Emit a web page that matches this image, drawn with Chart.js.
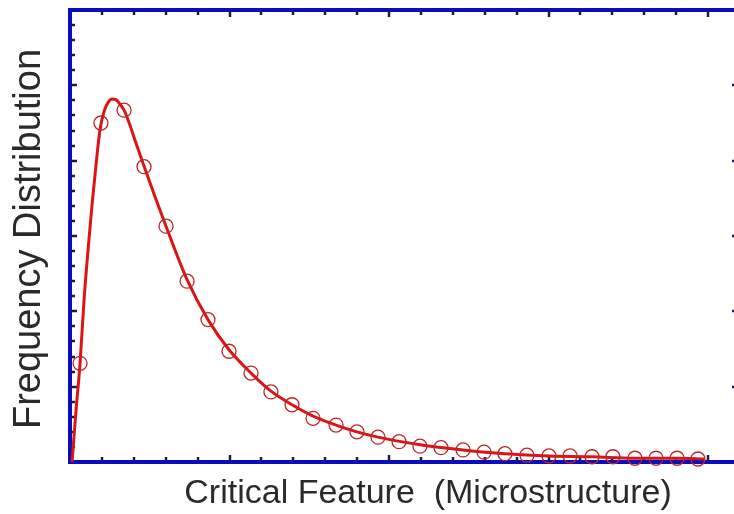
<!DOCTYPE html>
<html><head><meta charset="utf-8">
<script src="https://cdn.jsdelivr.net/npm/chart.js@4/dist/chart.umd.min.js"></script>
<style>html,body{margin:0;padding:0;background:#fff;overflow:hidden;}</style>
</head><body>
<canvas id="c" width="734" height="514"></canvas>
<script>
// Measured sample points (circles)
const sampleX = [0.063,0.194,0.339,0.464,0.602,0.734,0.865,0.997,1.135,1.260,1.392,1.524,1.668,1.799,1.931,2.063,2.194,2.326,2.464,2.596,2.727,2.865,3.003,3.135,3.273,3.404,3.542,3.674,3.806,3.937];
const sampleY = [1.31,4.50,4.67,3.92,3.13,2.40,1.89,1.47,1.18,0.93,0.76,0.58,0.49,0.40,0.33,0.27,0.21,0.19,0.16,0.13,0.11,0.09,0.08,0.08,0.07,0.07,0.05,0.05,0.05,0.04];
// Fitted distribution curve (solid red line)
const fitX = [0.013,0.038,0.063,0.088,0.113,0.138,0.163,0.188,0.213,0.238,0.263,0.288,0.313,0.339,0.376,0.414,0.464,0.533,0.602,0.734,0.865,0.997,1.135,1.260,1.392,1.524,1.668,1.799,1.931,2.194,2.464,2.727,3.003,3.273,3.542,3.806,3.980];
const fitY = [0.00,0.69,1.31,2.15,2.81,3.41,3.94,4.41,4.65,4.77,4.82,4.81,4.75,4.67,4.47,4.23,3.93,3.52,3.13,2.42,1.89,1.49,1.18,0.94,0.76,0.61,0.49,0.40,0.33,0.23,0.16,0.11,0.08,0.07,0.05,0.05,0.04];
const xAxisTitle = 'Critical Feature  (Microstructure)';
const yAxisTitle = 'Frequency Distribution';
const xMin = 0, xMax = 4.163, yMin = 0, yMax = 6;
const xMajorStep = 1, xMinorStep = 0.2, yMajorStep = 1, yMinorStep = 0.2;

const toPts = (xs, ys) => xs.map((x, i) => ({x: x, y: ys[i]}));

const framePlugin = {
  id: 'frame',
  beforeDatasetsDraw(chart) {
    const {ctx, chartArea: a, scales: {x, y}} = chart;
    ctx.save();
    ctx.strokeStyle = '#0b0bbf';
    ctx.lineWidth = 4;
    ctx.strokeRect(a.left, a.top, a.right - a.left + 3, a.bottom - a.top);
    ctx.strokeStyle = '#181860';
    ctx.lineWidth = 2.5;
    ctx.beginPath();
    const nx = Math.round((xMax - xMin) / xMinorStep);
    for (let i = 1; i <= nx; i++) {
      const v = xMin + i * xMinorStep;
      const px = Math.round(x.getPixelForValue(v));
      const major = (i % Math.round(xMajorStep / xMinorStep)) === 0;
      const len = major ? 7 : 5;
      ctx.moveTo(px, a.top); ctx.lineTo(px, a.top + len);
      ctx.moveTo(px, a.bottom); ctx.lineTo(px, a.bottom - len);
    }
    const ny = Math.round((yMax - yMin) / yMinorStep);
    for (let i = 1; i < ny; i++) {
      const v = yMin + i * yMinorStep;
      const py = Math.round(y.getPixelForValue(v));
      const major = (i % Math.round(yMajorStep / yMinorStep)) === 0;
      ctx.moveTo(a.left, py); ctx.lineTo(a.left + (major ? 7 : 5), py);
      if (major) { ctx.moveTo(a.right, py); ctx.lineTo(a.right - 2, py); }
    }
    ctx.stroke();
    ctx.restore();
  },
  afterDraw(chart) {
    const {ctx} = chart;
    ctx.save();
    ctx.fillStyle = '#2a2a2a';
    ctx.textAlign = 'center';
    ctx.textBaseline = 'middle';
    ctx.font = '34px "Liberation Sans", Arial, sans-serif';
    ctx.fillText(xAxisTitle, 428, 494);
    ctx.font = '38px "Liberation Sans", Arial, sans-serif';
    ctx.translate(30, 239);
    ctx.rotate(-Math.PI / 2);
    ctx.fillText(yAxisTitle, 0, 0);
    ctx.restore();
  }
};

new Chart(document.getElementById('c'), {
  type: 'scatter',
  data: {
    datasets: [
      {
        label: 'Fit',
        data: toPts(fitX, fitY),
        showLine: true,
        borderColor: '#dc1414',
        borderWidth: 3,
        pointRadius: 0,
        cubicInterpolationMode: 'monotone',
        clip: false,
        order: 2
      },
      {
        label: 'Data',
        data: toPts(sampleX, sampleY),
        showLine: false,
        pointStyle: 'circle',
        pointRadius: 7,
        pointBorderColor: '#b82828',
        pointBorderWidth: 1.3,
        pointBackgroundColor: 'rgba(0,0,0,0)',
        clip: false,
        order: 1
      }
    ]
  },
  options: {
    responsive: false,
    animation: false,
    devicePixelRatio: 1,
    layout: {autoPadding: false, padding: {left: 70, top: 10, right: 0, bottom: 52}},
    plugins: {legend: {display: false}, tooltip: {enabled: false}},
    scales: {
      x: {type: 'linear', min: xMin, max: xMax, display: false},
      y: {type: 'linear', min: yMin, max: yMax, display: false}
    }
  },
  plugins: [framePlugin]
});
</script>
</body></html>
